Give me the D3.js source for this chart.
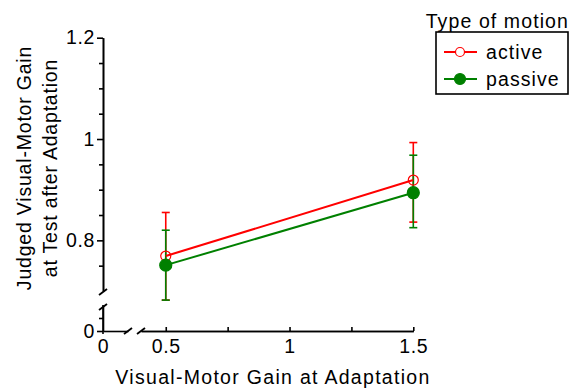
<!DOCTYPE html>
<html>
<head>
<meta charset="utf-8">
<script src="https://cdn.jsdelivr.net/npm/d3@7"></script>
<style>
  body { margin: 0; background: #fff; }
  svg text { font-family: "Liberation Sans", Arial, sans-serif; fill: #000; }
</style>
</head>
<body>
<div id="chart"></div>
<script>
// ------------------------------------------------------------
// Data
// ------------------------------------------------------------
const gains = [0.5, 1.5];
const activeMean = [0.769, 0.919];
const activeLow = [0.682, 0.836];
const activeHigh = [0.855, 0.993];
const passiveMean = [0.751, 0.894];
const passiveLow = [0.682, 0.825];
const passiveHigh = [0.820, 0.968];

const yMajor = [0.8, 1, 1.2];
const yMinor = [0.75, 0.85, 0.9, 0.95, 1.05, 1.1, 1.15];
const yLowMajor = [0];
const yLowMinor = [0.05];
const xMajor = [0.5, 1, 1.5];
const xMinor = [0.75, 1.25];
const xLowMajor = [0];

const series = [
  { label: "active", color: "#ff0000", mean: activeMean, low: activeLow, high: activeHigh, filled: false },
  { label: "passive", color: "#008000", mean: passiveMean, low: passiveLow, high: passiveHigh, filled: true }
];

// ------------------------------------------------------------
// Layout and scales (broken axes: a small segment near 0)
// ------------------------------------------------------------
const width = 579;
const height = 390;

const y = d3.scaleLinear().domain([0.7, 1.2]).range([291, 37.7]);
const yLow = d3.scaleLinear().domain([0, 0.1]).range([331, 305]);
const x = d3.scaleLinear().domain([0.4, 1.5]).range([141, 413.3]);
const xLow = d3.scaleLinear().domain([0, 0.1]).range([103, 128]);

const svg = d3.select("#chart")
  .append("svg")
  .attr("width", width)
  .attr("height", height);

const fontSize = "19.5px";
const spacing = "0.6px";
const titleSpacing = "1.3px";

function styleAxis(g) {
  g.select(".domain").attr("stroke", "#000").attr("stroke-width", 1.6);
  g.selectAll(".tick line").attr("stroke", "#000").attr("stroke-width", 1.6);
  g.selectAll(".tick text").style("font-size", fontSize).style("letter-spacing", spacing);
}

// ------------------------------------------------------------
// Y axis (upper and lower segments)
// ------------------------------------------------------------
const yAxisX = xLow(0);

svg.append("g")
  .attr("transform", `translate(${yAxisX},0)`)
  .call(d3.axisLeft(y).tickValues(yMinor).tickSize(4).tickFormat("").tickSizeOuter(0))
  .call(styleAxis);
svg.append("g")
  .attr("transform", `translate(${yAxisX},0)`)
  .call(d3.axisLeft(y).tickValues(yMajor).tickSize(6).tickPadding(2).tickSizeOuter(0).tickFormat(d3.format("")))
  .call(styleAxis);

svg.append("g")
  .attr("transform", `translate(${yAxisX},0)`)
  .call(d3.axisLeft(yLow).tickValues(yLowMinor).tickSize(4).tickFormat("").tickSizeOuter(0))
  .call(styleAxis);
svg.append("g")
  .attr("transform", `translate(${yAxisX},0)`)
  .call(d3.axisLeft(yLow).tickValues(yLowMajor).tickSize(6).tickPadding(2).tickSizeOuter(0).tickFormat(d3.format("")))
  .call(styleAxis)
  .call(g => g.select(".domain").remove());
// lower y segment line
svg.append("line")
  .attr("x1", yAxisX).attr("x2", yAxisX)
  .attr("y1", yLow(0) + 3).attr("y2", yLow(0.1))
  .attr("stroke", "#000").attr("stroke-width", 1.6);

// ------------------------------------------------------------
// X axis (upper and lower segments), ticks point inward
// ------------------------------------------------------------
const xAxisY = yLow(0);

svg.append("g")
  .attr("transform", `translate(0,${xAxisY})`)
  .call(d3.axisBottom(x).tickValues(xMinor).tickSize(-4).tickFormat("").tickSizeOuter(0))
  .call(styleAxis);
svg.append("g")
  .attr("transform", `translate(0,${xAxisY})`)
  .call(d3.axisBottom(x).tickValues(xMajor).tickSize(-4).tickPadding(8).tickSizeOuter(0).tickFormat(d3.format("")))
  .call(styleAxis);
svg.append("g")
  .attr("transform", `translate(0,${xAxisY})`)
  .call(d3.axisBottom(xLow).tickValues(xLowMajor).tickSize(0).tickPadding(8).tickSizeOuter(0).tickFormat(d3.format("")))
  .call(styleAxis);

// break marks
function breakMark(cx, cy) {
  svg.append("line")
    .attr("x1", cx - 4).attr("y1", cy + 3)
    .attr("x2", cx + 4).attr("y2", cy - 3)
    .attr("stroke", "#000").attr("stroke-width", 1.8);
}
breakMark(yAxisX, y(0.7) + 1);
breakMark(yAxisX, yLow(0.1) + 2);
breakMark(xLow(0.1), xAxisY);
breakMark(x(0.4), xAxisY);

// ------------------------------------------------------------
// Error bars, lines and points
// ------------------------------------------------------------
const cap = 4;

series.forEach(s => {
  const bars = svg.append("g");
  gains.forEach((g, i) => {
    bars.append("line")
      .attr("x1", x(g)).attr("x2", x(g))
      .attr("y1", y(s.low[i])).attr("y2", y(s.high[i]))
      .attr("stroke", s.color).attr("stroke-width", 1.6);
    [s.low[i], s.high[i]].forEach(v => {
      bars.append("line")
        .attr("x1", x(g) - cap).attr("x2", x(g) + cap)
        .attr("y1", y(v)).attr("y2", y(v))
        .attr("stroke", s.color).attr("stroke-width", 1.6);
    });
  });
});

const line = d3.line()
  .x(d => x(d[0]))
  .y(d => y(d[1]));

series.forEach(s => {
  svg.append("path")
    .datum(gains.map((g, i) => [g, s.mean[i]]))
    .attr("d", line)
    .attr("fill", "none")
    .attr("stroke", s.color)
    .attr("stroke-width", 2);
});

series.forEach(s => {
  svg.append("g")
    .selectAll("circle")
    .data(gains.map((g, i) => [g, s.mean[i]]))
    .join("circle")
    .attr("cx", d => x(d[0]))
    .attr("cy", d => y(d[1]))
    .attr("r", s.filled ? 6 : 5)
    .attr("fill", s.filled ? s.color : "none")
    .attr("stroke", s.color)
    .attr("stroke-width", 1.2);
});

// ------------------------------------------------------------
// Axis titles
// ------------------------------------------------------------
svg.append("text")
  .attr("x", 273)
  .attr("y", 384)
  .attr("text-anchor", "middle")
  .style("font-size", fontSize)
  .style("letter-spacing", titleSpacing)
  .text("Visual-Motor Gain at Adaptation");

const yTitle = svg.append("text")
  .attr("transform", "translate(0,168) rotate(-90)")
  .attr("text-anchor", "middle")
  .style("font-size", fontSize)
  .style("letter-spacing", "0.8px");
yTitle.append("tspan").attr("x", 0).attr("y", 31).text("Judged Visual-Motor Gain");
yTitle.append("tspan").attr("x", 0).attr("y", 57).text("at Test after Adaptation");

// ------------------------------------------------------------
// Legend
// ------------------------------------------------------------
svg.append("text")
  .attr("x", 569)
  .attr("y", 28)
  .attr("text-anchor", "end")
  .style("font-size", fontSize)
  .style("letter-spacing", "1.1px")
  .text("Type of motion");

svg.append("rect")
  .attr("x", 436).attr("y", 32)
  .attr("width", 132).attr("height", 62)
  .attr("fill", "none")
  .attr("stroke", "#000")
  .attr("stroke-width", 1.6);

const legendY = [52, 79];
series.forEach((s, i) => {
  const g = svg.append("g").attr("transform", `translate(0,${legendY[i]})`);
  g.append("line")
    .attr("x1", 444).attr("x2", 477)
    .attr("stroke", s.color).attr("stroke-width", 2);
  g.append("circle")
    .attr("cx", 460).attr("r", s.filled ? 5.5 : 4.5)
    .attr("fill", s.filled ? s.color : "#fff")
    .attr("stroke", s.color).attr("stroke-width", 1.2);
  g.append("text")
    .attr("x", 486).attr("y", 7)
    .style("font-size", fontSize)
    .style("letter-spacing", "1.1px")
    .text(s.label);
});
</script>
</body>
</html>
